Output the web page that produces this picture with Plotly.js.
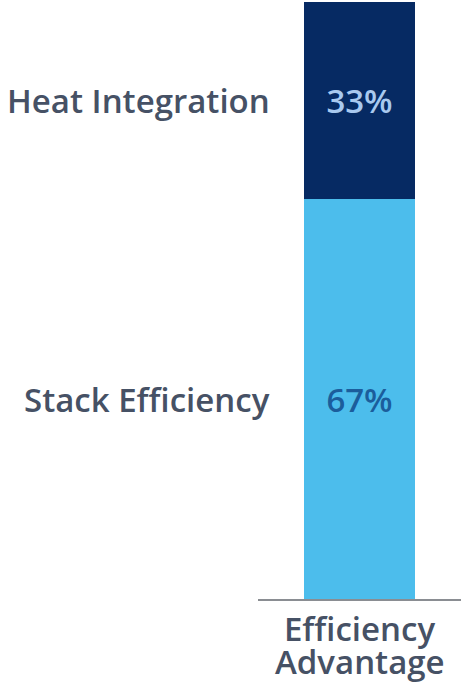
<!DOCTYPE html>
<html><head><meta charset="utf-8">
<script src="https://cdn.plot.ly/plotly-3.0.1.min.js"></script>
<style>html,body{margin:0;padding:0;background:#fff}#chart{width:461px;height:692px}</style>
</head><body><div id="chart"></div>
<script>
const category = ["Efficiency Advantage"];
const categoryTickLines = [["Efficiency", "Advantage"]];
const seriesNames = ["Stack Efficiency", "Heat Integration"];
const seriesValues = [[67], [33]];
const seriesColors = ["#4cbdec", "#062a63"];
const seriesTextColors = ["#1b5d9c", "#a9c9ef"];

const FONT = 'Open Sans';
const LABEL_COLOR = '#465165';

const traces = seriesNames.map((n, i) => ({
  type: 'bar', name: n, x: category, y: seriesValues[i],
  marker: {color: seriesColors[i], line: {width: 0}},
  text: seriesValues[i].map(v => v + '%'), textposition: 'inside',
  insidetextanchor: 'middle', textangle: 0, constraintext: 'none',
  textfont: {family: FONT, size: 33, weight: 600, color: seriesTextColors[i]},
  hoverinfo: 'none'
}));

let cum = 0;
const annotations = seriesNames.map((n, i) => {
  const v = seriesValues[i][0];
  const mid = cum + v / 2; cum += v;
  return {text: n, xref: 'paper', x: 0.069, xanchor: 'right', yref: 'y', y: mid,
    yanchor: 'middle', showarrow: false,
    font: {family: FONT, size: 33, weight: 600, color: LABEL_COLOR}};
});
// second line of the category label (tight line spacing)
category.forEach((c, i) => {
  annotations.push({text: categoryTickLines[i][1], xref: 'x', x: c, xanchor: 'center',
    yref: 'paper', y: 0, yshift: -38, yanchor: 'top', showarrow: false,
    font: {family: FONT, size: 33, weight: 600, color: LABEL_COLOR}});
});

Plotly.newPlot('chart', traces, {
  width: 461, height: 692, barmode: 'stack', bargap: 0.45, showlegend: false,
  margin: {l: 258, r: 0, t: 2, b: 93},
  paper_bgcolor: '#fff', plot_bgcolor: '#fff',
  xaxis: {tickvals: category, ticktext: categoryTickLines.map(l => l[0]), showline: true,
    linecolor: '#8a8d92', linewidth: 2, ticks: '', ticklabelstandoff: 0,
    tickfont: {family: FONT, size: 33, weight: 600, color: LABEL_COLOR}, fixedrange: true},
  yaxis: {range: [0, 100], visible: false, showgrid: false, zeroline: false},
  annotations: annotations
}, {displayModeBar: false, staticPlot: true});
</script></body></html>
